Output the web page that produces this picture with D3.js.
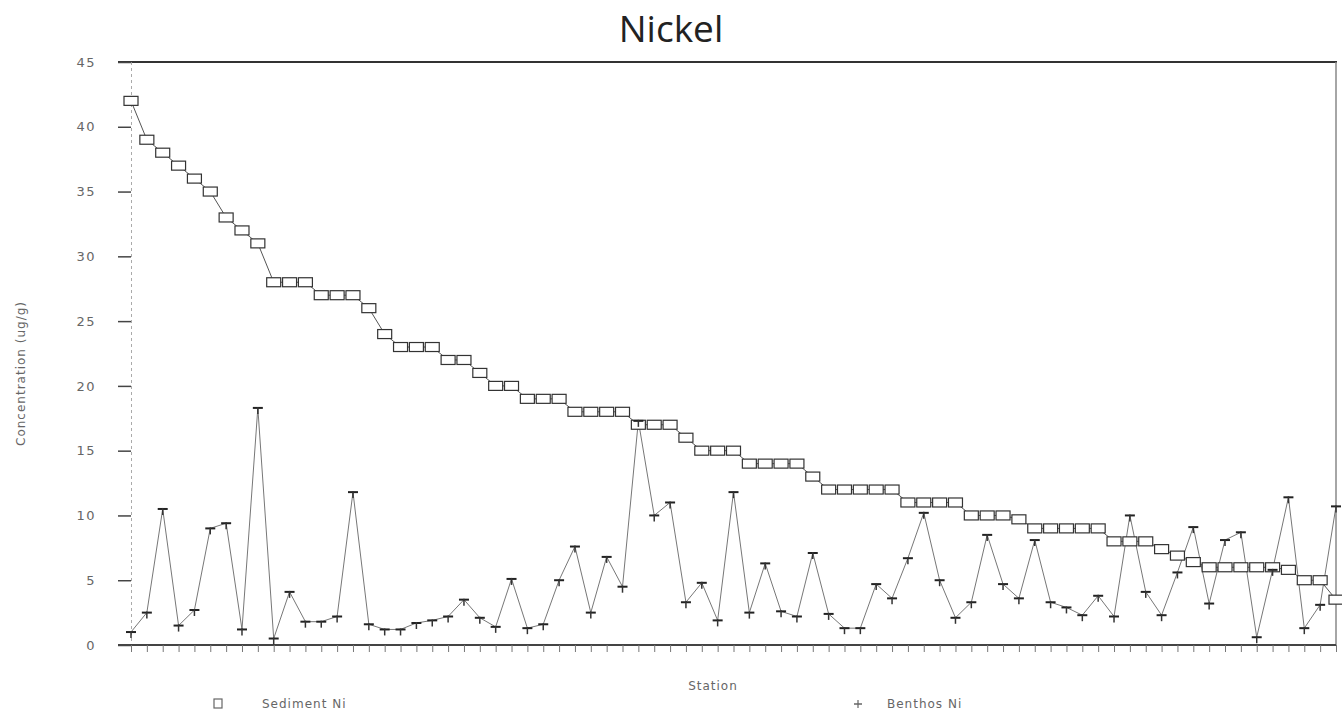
<!DOCTYPE html>
<html>
<head>
<meta charset="utf-8">
<script src="https://cdn.jsdelivr.net/npm/d3@7"></script>
<style>
  html, body { margin: 0; padding: 0; background: #fff; }
  svg { display: block; }
  .tick-label { font-family: "DejaVu Sans", sans-serif; font-size: 13px; fill: #666; letter-spacing: 1.5px; }
  .axis-title { font-family: "DejaVu Sans", sans-serif; font-size: 12px; fill: #666; letter-spacing: 1px; }
</style>
</head>
<body>
<svg id="chart" width="1342" height="719"></svg>
<script>
// ---- data ----
const title = 'Nickel';
const yTicks = [0, 5, 10, 15, 20, 25, 30, 35, 40, 45];

const sedimentNi = [
  42, 39, 38, 37, 36, 35, 33, 32, 31, 28,
  28, 28, 27, 27, 27, 26, 24, 23, 23, 23,
  22, 22, 21, 20, 20, 19, 19, 19, 18, 18,
  18, 18, 17, 17, 17, 16, 15, 15, 15, 14,
  14, 14, 14, 13, 12, 12, 12, 12, 12, 11,
  11, 11, 11, 10, 10, 10, 9.7, 9, 9, 9,
  9, 9, 8, 8, 8, 7.4, 6.9, 6.4, 6, 6,
  6, 6, 6, 5.8, 5, 5, 3.5
];

const benthosNi = [
  1.0, 2.5, 10.5, 1.5, 2.7, 9.0, 9.4, 1.2, 18.3, 0.5,
  4.1, 1.8, 1.8, 2.2, 11.8, 1.6, 1.2, 1.2, 1.7, 1.9,
  2.2, 3.5, 2.1, 1.4, 5.1, 1.3, 1.6, 5.0, 7.6, 2.5,
  6.8, 4.5, 17.3, 10.0, 11.0, 3.3, 4.8, 1.9, 11.8, 2.5,
  6.3, 2.6, 2.2, 7.1, 2.4, 1.3, 1.3, 4.7, 3.6, 6.7,
  10.2, 5.0, 2.1, 3.3, 8.5, 4.7, 3.6, 8.1, 3.3, 2.9,
  2.3, 3.8, 2.2, 10.0, 4.1, 2.3, 5.6, 9.1, 3.2, 8.1,
  8.7, 0.6, 5.8, 11.4, 1.3, 3.1, 10.7
];

const stations = d3.range(1, sedimentNi.length + 1);
const legendItems = [
  { key: 'sed', label: 'Sediment Ni' },
  { key: 'ben', label: 'Benthos Ni' }
];

// ---- layout ----
const M = { left: 131, right: 1336, top: 62, bottom: 645 };

const svg = d3.select('#chart');

const x = d3.scalePoint()
  .domain(stations)
  .range([M.left, M.right]);

const y = d3.scaleLinear()
  .domain([0, 45])
  .range([M.bottom, M.top]);

// title
svg.append('text')
  .attr('x', 671)
  .attr('y', 42)
  .attr('text-anchor', 'middle')
  .style('font-family', '"Open Sans", sans-serif')
  .style('font-size', '37px')
  .style('font-weight', 500)
  .style('fill', '#222')
  .text(title);

// frame: top + right
svg.append('line')
  .attr('x1', 118).attr('x2', M.right + 1)
  .attr('y1', M.top).attr('y2', M.top)
  .attr('stroke', '#333').attr('stroke-width', 2);
svg.append('line')
  .attr('x1', M.right).attr('x2', M.right)
  .attr('y1', M.top).attr('y2', M.bottom)
  .attr('stroke', '#888').attr('stroke-width', 1.5);

// y axis
const yAxis = d3.axisLeft(y).tickValues(yTicks).tickSize(13).tickPadding(22);
const gy = svg.append('g')
  .attr('transform', `translate(${M.left},0)`)
  .call(yAxis);
gy.select('.domain').attr('stroke', '#aaa').attr('stroke-dasharray', '3,3');
gy.selectAll('.tick line').attr('stroke', '#444').attr('stroke-width', 1.5);
gy.selectAll('.tick text').attr('class', 'tick-label').attr('fill', null);

// x axis (one tick per station, no labels)
const xAxis = d3.axisBottom(x).tickSize(7).tickFormat('');
const gx = svg.append('g')
  .attr('transform', `translate(0,${M.bottom})`)
  .call(xAxis);
gx.select('.domain').attr('stroke', '#444').attr('stroke-width', 2)
  .attr('d', `M${118},0H${M.right}`);
gx.selectAll('.tick line').attr('stroke', '#777');

// axis titles
svg.append('text')
  .attr('class', 'axis-title')
  .attr('transform', `translate(25,${(M.top + M.bottom) / 2 + 20}) rotate(-90)`)
  .attr('text-anchor', 'middle')
  .text('Concentration (ug/g)');

svg.append('text')
  .attr('class', 'axis-title')
  .attr('x', 713)
  .attr('y', 690)
  .attr('text-anchor', 'middle')
  .text('Station');

// sediment line + boxes
const sedData = stations.map((s, i) => ({ s, v: sedimentNi[i] }));
const benData = stations.map((s, i) => ({ s, v: benthosNi[i] }));

const line = d3.line().x(d => x(d.s)).y(d => y(d.v));

svg.append('path')
  .attr('d', line(benData))
  .attr('fill', 'none')
  .attr('stroke', '#777')
  .attr('stroke-width', 1);

svg.append('path')
  .attr('d', line(sedData))
  .attr('fill', 'none')
  .attr('stroke', '#555')
  .attr('stroke-width', 1);

svg.append('g').selectAll('rect')
  .data(sedData)
  .join('rect')
  .attr('x', d => x(d.s) - 7)
  .attr('y', d => y(d.v) - 4.5)
  .attr('width', 14)
  .attr('height', 9)
  .attr('fill', '#fff')
  .attr('stroke', '#333')
  .attr('stroke-width', 1.2);

// benthos "+" markers
const plus = svg.append('g').selectAll('g')
  .data(benData)
  .join('g')
  .attr('transform', d => `translate(${x(d.s)},${y(d.v)})`);
plus.append('line')
  .attr('x1', -5).attr('x2', 5).attr('y1', 0).attr('y2', 0)
  .attr('stroke', '#222').attr('stroke-width', 2);
plus.append('line')
  .attr('x1', 0).attr('x2', 0).attr('y1', -1).attr('y2', 6)
  .attr('stroke', '#333').attr('stroke-width', 1.5);

// legend
const lg = svg.append('g');
lg.append('rect')
  .attr('x', 214).attr('y', 699).attr('width', 8).attr('height', 9)
  .attr('fill', '#fff').attr('stroke', '#666').attr('stroke-width', 1.2);
lg.append('text').attr('class', 'axis-title')
  .attr('x', 262).attr('y', 708).text(legendItems[0].label);

lg.append('line')
  .attr('x1', 854).attr('x2', 862).attr('y1', 704).attr('y2', 704)
  .attr('stroke', '#666').attr('stroke-width', 1.5);
lg.append('line')
  .attr('x1', 858).attr('x2', 858).attr('y1', 700).attr('y2', 708)
  .attr('stroke', '#666').attr('stroke-width', 1.2);
lg.append('text').attr('class', 'axis-title')
  .attr('x', 887).attr('y', 708).text(legendItems[1].label);
</script>
</body>
</html>
